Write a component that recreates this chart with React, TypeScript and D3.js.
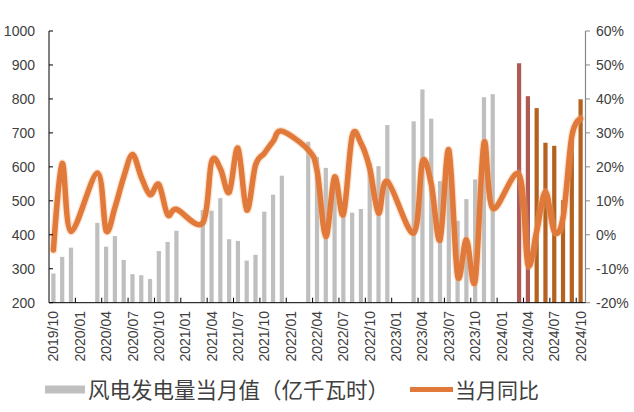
import React from "react";
import * as d3 from "d3";

const months: string[] = [
  "2019/10","2019/11","2019/12",
  "2020/01","2020/02","2020/03","2020/04","2020/05","2020/06","2020/07","2020/08","2020/09","2020/10","2020/11","2020/12",
  "2021/01","2021/02","2021/03","2021/04","2021/05","2021/06","2021/07","2021/08","2021/09","2021/10","2021/11","2021/12",
  "2022/01","2022/02","2022/03","2022/04","2022/05","2022/06","2022/07","2022/08","2022/09","2022/10","2022/11","2022/12",
  "2023/01","2023/02","2023/03","2023/04","2023/05","2023/06","2023/07","2023/08","2023/09","2023/10","2023/11","2023/12",
  "2024/01","2024/02","2024/03","2024/04","2024/05","2024/06","2024/07","2024/08","2024/09","2024/10",
];

// 风电发电量当月值（亿千瓦时）
const generation: (number | null)[] = [
  286, 335, 362,
  null, null, 435, 365, 396, 326, 284, 281, 270, 352, 379, 412,
  null, null, 473, 471, 508, 387, 382, 324, 341, 468, 518, 574,
  null, null, 674, 629, 597, 530, 455, 465, 476, 612, 602, 723,
  null, null, 734, 828, 742, 558, 598, 441, 505, 563, 805, 814,
  null, null, 905, 808, 773, 671, 662, 502, 690, 799,
];

// 当月同比 (%)
const yoy: (number | null)[] = [
  -4.5, 21, 1,
  null, null, 18.2, 1.2, 8, 17, 23.6, 17, 11.8, 14.8, 5.9, 7.5,
  null, null, 3.5, 21.5, 19.5, 12.5, 25.5, 7.3, 20.5, 24, 27.5, 30.5,
  null, null, 25, 19, -0.5, 17, 6, 29, 27, 19.6, 6.4, 15.7,
  null, null, 0.5, 21.5, 15, -1.5, 25, -12, -1.5, -13.5, 27, 7.8,
  null, null, 17.7, -8.7, 1, 12.7, 1, 5, 29, 34.2,
];

const leftTicks = [200, 300, 400, 500, 600, 700, 800, 900, 1000];
const rightTicks = [-20, -10, 0, 10, 20, 30, 40, 50, 60];
const legendLabels = ["风电发电量当月值（亿千瓦时）", "当月同比"];

const W = 634;
const H = 412;
const L = 49;
const R = 585.5;
const T = 31;
const B = 302.7;

const GRAY = "#BFBFBF";
const RED = "#AF5A55";
const BROWN = "#B5621E";
const LINE = "#E0793A";
const TEXT = "#404040";
const FONT = "'Liberation Sans', Arial, sans-serif";
const CJK = "'Noto Sans CJK SC', sans-serif";

function barColor(m: string): string {
  if (m >= "2024/05") return BROWN;
  if (m >= "2024/03") return RED;
  return GRAY;
}

export default function App() {
  const x = d3.scaleBand<string>().domain(months).range([L, R - 0.5]).paddingInner(0.52).paddingOuter(0.26);
  const yL = d3.scaleLinear().domain([200, 1000]).range([B, T]);
  const yR = d3.scaleLinear().domain([-20, 60]).range([B, T]);
  const step = x.step();
  const cx = (m: string) => (x(m) as number) + x.bandwidth() / 2;

  const pts = months
    .map((m, i) => ({ m, v: yoy[i] }))
    .filter((d) => d.v !== null) as { m: string; v: number }[];
  const lineGen = d3
    .line<{ m: string; v: number }>()
    .x((d) => cx(d.m))
    .y((d) => yR(d.v))
    .curve(d3.curveCatmullRom.alpha(0));
  const path = lineGen(pts) || "";

  const tickIdx = d3.range(3, months.length, 3);

  return (
    <svg width={W} height={H} style={{ position: "absolute", left: 0, top: 0, background: "#fff" }}>
      <rect x={0} y={0} width={W} height={H} fill="#fff" />
      {months.map((m, i) =>
        generation[i] === null ? null : (
          <rect
            key={m}
            x={x(m)}
            y={yL(generation[i] as number)}
            width={x.bandwidth()}
            height={B - yL(generation[i] as number)}
            fill={barColor(m)}
          />
        )
      )}
      <path d={path} fill="none" stroke="#F4B27E" strokeOpacity={0.35} strokeWidth={8} strokeLinejoin="round" strokeLinecap="round" />
      <path d={path} fill="none" stroke={LINE} strokeWidth={5.5} strokeLinejoin="round" strokeLinecap="round" />

      <line x1={L} x2={L} y1={T} y2={B} stroke="#000" strokeWidth={1} />
      {leftTicks.map((t) => (
        <g key={t}>
          <line x1={L} x2={L + 4} y1={yL(t)} y2={yL(t)} stroke="#000" />
          <text x={35} y={yL(t)} dy="0.35em" textAnchor="end" fontFamily={FONT} fontSize={14} fill={TEXT}>
            {t}
          </text>
        </g>
      ))}

      <line x1={R} x2={R} y1={T} y2={B} stroke="#898989" strokeWidth={1.2} />
      {rightTicks.map((t) => (
        <g key={t}>
          <line x1={R} x2={R + 4.5} y1={yR(t)} y2={yR(t)} stroke="#898989" />
          <text x={596} y={yR(t)} dy="0.35em" textAnchor="start" fontFamily={FONT} fontSize={14} fill={TEXT}>
            {t}%
          </text>
        </g>
      ))}

      <line x1={L} x2={R} y1={B} y2={B} stroke="#000" strokeWidth={1} />
      {tickIdx.map((k) => (
        <line key={k} x1={L + k * step} x2={L + k * step} y1={B} y2={B - 5} stroke="#000" />
      ))}
      {months.map((m, i) =>
        i % 3 === 0 ? (
          <text
            key={m}
            transform={`translate(${cx(m)},${311}) rotate(-90)`}
            dy="0.36em"
            textAnchor="end"
            fontFamily={FONT}
            fontSize={14}
            fill={TEXT}
          >
            {m}
          </text>
        ) : null
      )}

      <rect x={45} y={385.5} width={40} height={8} fill={GRAY} />
      <text x={88} y={390} dy="0.36em" fontFamily={CJK} fontSize={21.5} fill={TEXT}>
        {legendLabels[0]}
      </text>
      <line x1={410} x2={453} y1={389.5} y2={389.5} stroke={LINE} strokeWidth={5} />
      <text x={455} y={390} dy="0.36em" fontFamily={CJK} fontSize={21} fill={TEXT}>
        {legendLabels[1]}
      </text>
    </svg>
  );
}
